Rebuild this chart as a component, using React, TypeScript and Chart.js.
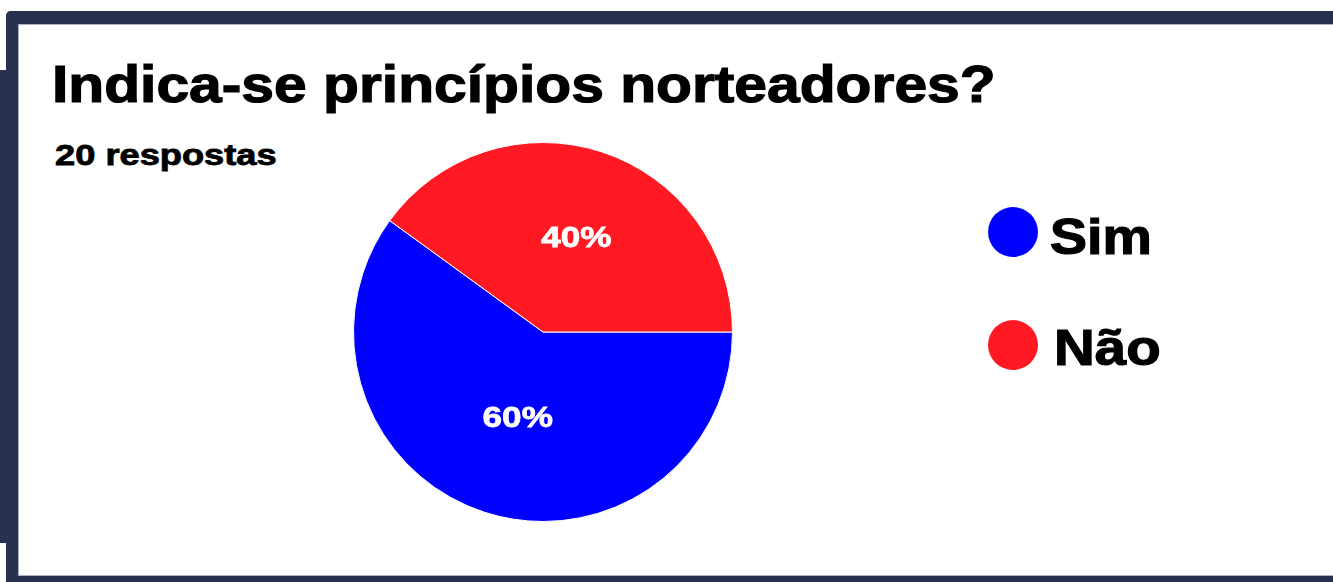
import React, { useEffect, useRef } from "react";
import { Chart, registerables } from "chart.js";

Chart.register(...registerables);

const titleText = "Indica-se princípios norteadores?";
const subtitleText = "20 respostas";
const categories = ["Sim", "Não"];
const values = [12, 8];
const colors = ["#0000ff", "#ff1a23"];

const FRAME = "#28314f";
const FONT = "'Liberation Sans', Arial, sans-serif";

const pctLabels = {
  id: "pctLabels",
  afterDatasetsDraw(chart: any) {
    const ctx = chart.ctx;
    const meta = chart.getDatasetMeta(0);
    const data = chart.data.datasets[0].data as number[];
    const total = data.reduce((a, b) => a + b, 0);
    ctx.save();
    ctx.fillStyle = "#ffffff";
    ctx.strokeStyle = "#ffffff";
    ctx.lineWidth = 0.8;
    ctx.font = `bold 30px ${FONT}`;
    ctx.textAlign = "center";
    ctx.textBaseline = "middle";
    meta.data.forEach((arc: any, i: number) => {
      const p = arc.getCenterPoint();
      const txt = Math.round((data[i] / total) * 100) + "%";
      ctx.save();
      ctx.translate(p.x + 4, p.y - 3);
      ctx.scale(1.17, 1);
      ctx.fillText(txt, 0, 0);
      ctx.strokeText(txt, 0, 0);
      ctx.restore();
    });
    ctx.restore();
  },
};

export default function App() {
  const ref = useRef<HTMLCanvasElement>(null);

  useEffect(() => {
    if (!ref.current) return;
    const chart = new Chart(ref.current, {
      type: "pie",
      data: {
        labels: categories,
        datasets: [
          {
            data: values,
            backgroundColor: colors,
            borderColor: "#ffffff",
            borderWidth: 1,
          },
        ],
      },
      options: {
        responsive: false,
        animation: false,
        events: [],
        rotation: 90,
        layout: { padding: 0 },
        plugins: {
          legend: { display: false },
          tooltip: { enabled: false },
          title: { display: false },
        },
      },
      plugins: [pctLabels],
    });
    return () => chart.destroy();
  }, []);

  const abs = (s: React.CSSProperties): React.CSSProperties => ({ position: "absolute", ...s });

  return (
    <div
      style={{
        position: "fixed",
        left: 0,
        top: 0,
        width: 1333,
        height: 582,
        background: "#ffffff",
        overflow: "hidden",
        fontFamily: FONT,
      }}
    >
      <div style={abs({ left: 0, top: 70, width: 10, height: 473, background: FRAME })} />
      <div
        style={abs({
          left: 6,
          top: 11,
          width: 1360,
          height: 552,
          borderLeft: `12px solid ${FRAME}`,
          borderTop: `13px solid ${FRAME}`,
          borderBottom: `13px solid ${FRAME}`,
          borderTopLeftRadius: 5,
          boxSizing: "content-box",
          background: "#ffffff",
          boxShadow: "inset 1px 1px 0 #aab0c2, inset 0 -1px 0 #aab0c2",
        })}
      />
      <div
        style={abs({
          left: 52,
          top: 58,
          fontSize: 52,
          lineHeight: "52px",
          fontWeight: "bold",
          color: "#000",
          whiteSpace: "nowrap",
          WebkitTextStroke: "1.2px #000",
          transform: "scaleX(1.13)",
          transformOrigin: "left top",
        })}
      >
        {titleText}
      </div>
      <div
        style={abs({
          left: 55,
          top: 141,
          fontSize: 29,
          lineHeight: "29px",
          fontWeight: "bold",
          color: "#000",
          whiteSpace: "nowrap",
          WebkitTextStroke: "0.8px #000",
          transform: "scaleX(1.25)",
          transformOrigin: "left top",
        })}
      >
        {subtitleText}
      </div>
      <canvas
        ref={ref}
        width={380}
        height={380}
        style={abs({ left: 353, top: 142, width: 380, height: 380, display: "block" })}
      />
      {categories.map((c, i) => (
        <React.Fragment key={c}>
          <div
            style={abs({
              left: 988,
              top: 207 + i * 113,
              width: 50,
              height: 50,
              borderRadius: "50%",
              background: colors[i],
            })}
          />
          <div
            style={abs({
              left: 1050 + i * 4,
              top: 212 + i * 111,
              fontSize: 50,
              lineHeight: "50px",
              fontWeight: "bold",
              color: "#000",
              whiteSpace: "nowrap",
              WebkitTextStroke: "1.2px #000",
              transform: `scaleX(${i === 0 ? 1.11 : 1.13})`,
              transformOrigin: "left top",
            })}
          >
            {c}
          </div>
        </React.Fragment>
      ))}
    </div>
  );
}
